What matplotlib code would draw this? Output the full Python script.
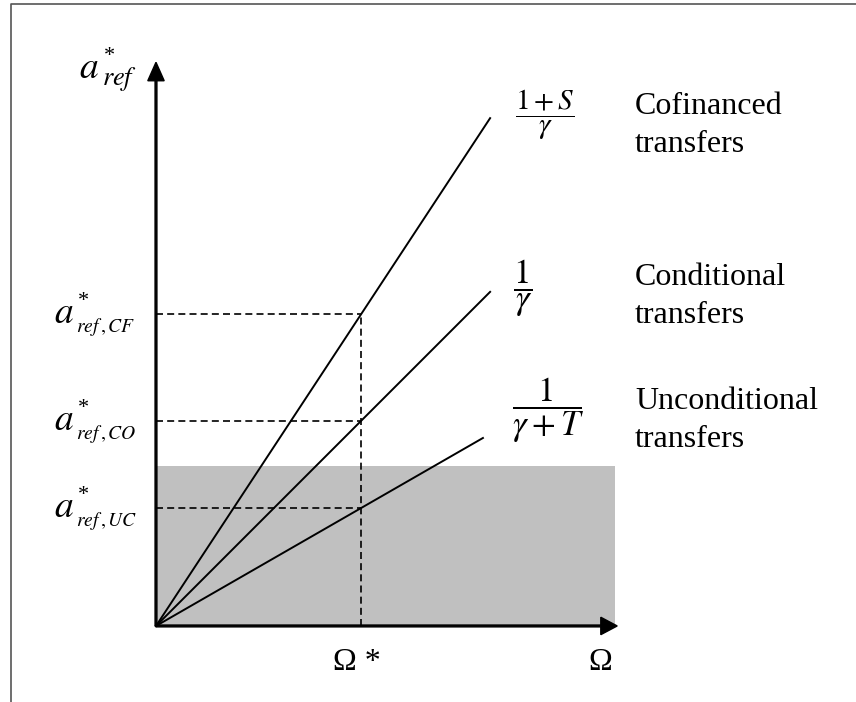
import matplotlib
matplotlib.use("Agg")
import matplotlib.pyplot as plt
from matplotlib.patches import Rectangle

plt.rcParams['font.family'] = 'Liberation Serif'
plt.rcParams['mathtext.fontset'] = 'stix'

# reference effort a*_ref at Omega* for each transfer scheme
omega_star = 1.0
schemes = ['CF', 'CO', 'UC']
a_star = [1.52, 1.0, 0.575]
line_end = [1.63, 1.63, 1.595]
fractions = [r'$\dfrac{1+S}{\gamma}$', r'$\dfrac{1}{\gamma}$', r'$\dfrac{1}{\gamma+T}$']
names = ['Cofinanced\ntransfers', 'Conditional\ntransfers', 'Unconditional\ntransfers']

# shaded region and axis extents
shade_w, shade_h = 2.24, 0.78
x_max, y_max = 2.25, 2.75

PT = 0.72  # points per pixel at 100 dpi

fig = plt.figure(figsize=(8.56, 7.02), dpi=100)
ax = fig.add_axes([0, 0, 1, 1])
ax.set_xlim(-0.761, 3.415)
ax.set_ylim(-0.371, 3.054)
ax.axis('off')

# frame lines at top and left
ax.plot([11 / 856, 11 / 856, 1], [0, 1 - 4 / 702, 1 - 4 / 702],
        transform=ax.transAxes, color='#555555', lw=1.2, clip_on=False)

ax.add_patch(Rectangle((0, 0), shade_w, shade_h, color='#c0c0c0', lw=0, zorder=0))

# axes with arrow heads
ax.arrow(0, 0, 0, y_max, width=0.009, head_width=0.08, head_length=0.09,
         length_includes_head=True, color='black', zorder=3)
ax.arrow(0, 0, x_max, 0, width=0.009, head_width=0.085, head_length=0.08,
         length_includes_head=True, color='black', zorder=3)

for a, xe in zip(a_star, line_end):
    slope = a / omega_star
    ax.plot([0, xe], [0, slope * xe], color='black', lw=1.4, zorder=2)
    ax.plot([0, omega_star], [a, a], color='black', lw=1.2,
            ls=(0, (4.2, 2.5)), zorder=2)
ax.plot([omega_star, omega_star], [0, max(a_star)], color='black', lw=1.2,
        ls=(0, (4.2, 2.5)), zorder=2)


def a_label(xy, sub, a_off, sub_off, star_off, sub_size):
    """big italic a with a star above and a small subscript, offsets in px"""
    for txt, off, fs in [(r'$a$', a_off, 27), (sub, sub_off, sub_size),
                         ('*', star_off, 16)]:
        ax.annotate(txt, xy=xy, xytext=(off[0] * PT, off[1] * PT),
                    textcoords='offset points', fontsize=fs,
                    ha='left', va='baseline')


# value labels on the vertical axis
for s, a in zip(schemes, a_star):
    a_label((0, a), r'$ref\,,%s$' % s, (-102, -9), (-80, -18), (-78, 8), 14)
a_label((0, y_max), r'$ref$', (-77, -16), (-54, -23), (-52, 1), 19)

# slope fractions and scheme names
frac_pos = [(1.895, 2.493), (1.79, 1.649), (1.912, 1.054)]
frac_size = [21, 25, 25]
for f, (fx, fy), fs in zip(fractions, frac_pos, frac_size):
    ax.text(fx, fy, f, fontsize=fs, ha='center', va='center')

# baseline of the second line of each name
name_y = [2.312, 1.478, 0.873]
for n, ny in zip(names, name_y):
    ax.text(2.337, ny, n, fontsize=23, ha='left', va='baseline', linespacing=1.4)

ax.text(omega_star - 0.02, -0.18, 'Ω *', fontsize=23, ha='center', va='center')
ax.text(2.166, -0.18, 'Ω', fontsize=23, ha='center', va='center')

fig.savefig('out.png', dpi=100)
